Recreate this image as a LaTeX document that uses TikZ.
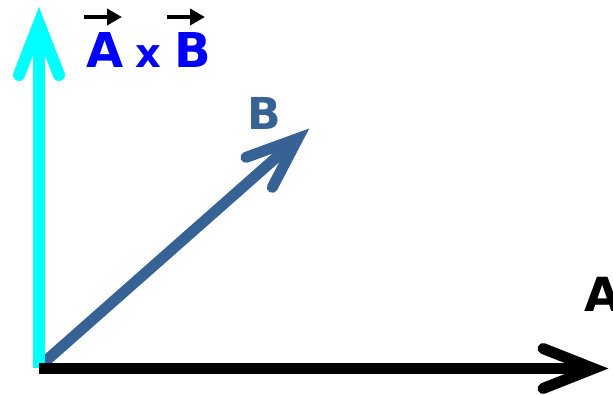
\documentclass[tikz,border=0pt]{standalone}
\usepackage{fontspec}
\setmainfont{DejaVu Sans}
\usetikzlibrary{arrows.meta}
\definecolor{steel}{RGB}{55,98,150}
\definecolor{aqua}{RGB}{0,255,255}
\definecolor{pureblue}{RGB}{0,0,255}
\tikzset{
  shaft/.style={line cap=butt},
  head/.style={line cap=round, line join=miter, miter limit=10},
  lbl/.style={inner sep=0pt, anchor=base},
  vecarrow/.style={line width=4pt, -{Triangle[length=15pt,width=16pt]}}
}
\begin{document}
\begin{tikzpicture}[x=1pt,y=-1pt]
\useasboundingbox (0,0) rectangle (613,395);
% coordinates
\coordinate (O) at (39,368.5);
\coordinate (Ob) at (40,366);
% cyan (A x B)
\coordinate (Ct) at (39,23.5);
\coordinate (Cw1) at (19,75);
\coordinate (Cw2) at (59,75);
% black (A)
\coordinate (At) at (593.5,368.5);
\coordinate (Aw1) at (543,348.5);
\coordinate (Aw2) at (543,388.5);
% steel (B)
\coordinate (Bt) at (297.8,138.5);
\coordinate (Bw1) at (245.9,157.4);
\coordinate (Bw2) at (272.3,187.4);
% vector B
\draw[steel, line width=11pt, shaft] (Ob) -- (Bt);
\draw[steel, line width=11pt, head] (Bw1) -- (Bt) -- (Bw2);
% cross product vector
\draw[aqua, line width=12pt, shaft] (O |- 0,368) -- (Ct);
\draw[aqua, line width=12pt, head] (Cw1) -- (Ct) -- (Cw2);
% vector A
\draw[black, line width=11pt, shaft] (O) -- (At);
\draw[black, line width=11pt, head] (Aw1) -- (At) -- (Aw2);
% labels
\node[lbl, text=steel, font=\bfseries\fontsize{44}{44}\selectfont] (lB) at (264,130) {B};
\node[lbl, text=black, font=\bfseries\fontsize{47}{47}\selectfont] (lA) at (603,312) {A};
\node[lbl, text=pureblue, font=\bfseries\fontsize{48}{48}\selectfont] (tA) at (105,68) {A};
\node[lbl, text=pureblue, font=\bfseries\fontsize{40}{40}\selectfont] (tx) at (148.5,68) {x};
\node[lbl, text=pureblue, font=\bfseries\fontsize{48}{48}\selectfont] (tB) at (192.5,68) {B};
\coordinate (va1) at (84,17);
\coordinate (va2) at (122,17);
\coordinate (vb1) at (167,17);
\coordinate (vb2) at (205,17);
\draw[vecarrow] (va1) -- (va2);
\draw[vecarrow] (vb1) -- (vb2);
\end{tikzpicture}
\end{document}
